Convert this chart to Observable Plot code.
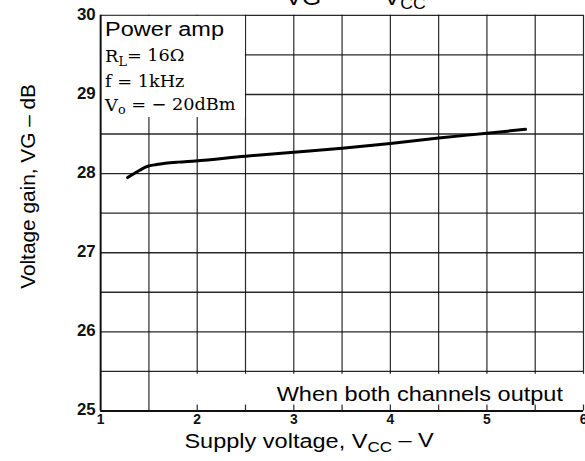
<!DOCTYPE html>
<html>
<head>
<meta charset="utf-8">
<script src="https://cdn.jsdelivr.net/npm/d3@7"></script>
<script src="https://cdn.jsdelivr.net/npm/@observablehq/plot@0.6"></script>
<style>
  html, body { margin: 0; padding: 0; overflow: hidden; background: #fff; }
  #chart { width: 585px; height: 461px; overflow: hidden; }
  svg { font-family: "Liberation Sans", Arial, sans-serif; }
</style>
</head>
<body>
<div id="chart"></div>
<script>
// ---- data ----
const supplyVoltage = [1.28, 1.33, 1.40, 1.48, 1.58, 1.67, 1.80, 1.98, 2.50, 3.00, 3.50, 4.00, 4.50, 5.00, 5.40];
const voltageGain   = [27.95, 27.99, 28.04, 28.09, 28.115, 28.13, 28.145, 28.16, 28.22, 28.27, 28.32, 28.38, 28.45, 28.51, 28.56];
const xTickValues = [1, 2, 3, 4, 5, 6];
const yTickValues = [25, 26, 27, 28, 29, 30];
const xGridValues = [1.5, 2, 2.5, 3, 3.5, 4, 4.5, 5, 5.5, 6];
const yGridValues = [25.5, 26, 26.5, 27, 27.5, 28, 28.5, 29, 29.5, 30];

const curve = supplyVoltage.map((v, i) => ({vcc: v, vg: voltageGain[i]}));

const plot = Plot.plot({
  width: 590,
  height: 461,
  marginLeft: 101,
  marginRight: 2,
  marginTop: 15,
  marginBottom: 47,
  style: {background: "white", color: "#111"},
  x: {domain: [1, 6], axis: null},
  y: {domain: [25, 30], axis: null},
  marks: [
    Plot.ruleX(xGridValues, {stroke: "#111", strokeWidth: 1.2, strokeOpacity: 0.9}),
    Plot.ruleY(yGridValues, {stroke: "#111", strokeWidth: 1.4, strokeOpacity: 0.9}),
    Plot.line(curve, {x: "vcc", y: "vg", stroke: "#000", strokeWidth: 3, curve: "monotone-x"}),
    Plot.ruleX([1], {stroke: "#111", strokeWidth: 2}),
    Plot.ruleY([25], {stroke: "#111", strokeWidth: 2}),
    Plot.text(xTickValues, {x: d => d, text: d => String(d), frameAnchor: "bottom", lineAnchor: "top", dy: 3,
      fontSize: 14, fontWeight: "bold", fill: "#111", fontFamily: "Liberation Sans, Arial, sans-serif"}),
    Plot.text(yTickValues, {y: d => d, text: d => String(d), frameAnchor: "left", textAnchor: "end", dx: -5, dy: -1,
      fontSize: 17, fontWeight: "bold", fill: "#111", fontFamily: "Liberation Sans, Arial, sans-serif"})
  ]
});

document.getElementById("chart").appendChild(plot);

const svg = d3.select(plot);
const sx = plot.scale("x"), sy = plot.scale("y");
const X = v => sx.apply(v), Y = v => sy.apply(v);

// white note backgrounds (covering grid), placed beneath the curve
const masks = [
  {x0: X(1) + 1, y0: Y(30) + 1, x1: X(1) + 146, y1: Y(30) + 103},
  {x0: X(1) + 71, y0: Y(25) - 37, x1: 590, y1: Y(25) - 6}
];
masks.forEach(m => {
  svg.insert("rect", 'g[aria-label="line"]')
    .attr("x", m.x0).attr("y", m.y0)
    .attr("width", m.x1 - m.x0).attr("height", m.y1 - m.y0)
    .attr("fill", "white");
});

const SX = 1.13;
function addText(x, y, parts, opts = {}) {
  const t = svg.append("text")
    .attr("transform", opts.rotate ? `translate(${x},${y}) rotate(-90)` : `translate(${x},${y}) scale(${opts.scale ?? SX},1)`)
    .attr("font-family", opts.family || "'Liberation Sans', Arial, sans-serif")
    .attr("font-size", opts.size || 21)
    .attr("fill", "#000")
    .attr("text-anchor", opts.anchor || "start");
  parts.forEach(p => {
    if (typeof p === "string") t.append("tspan").text(p);
    else t.append("tspan").attr("font-size", "0.72em").attr("dy", p.dy ?? "0.28em").text(p.sub);
  });
  t.selectAll("tspan").each(function(d, i, nodes) {
    const prev = nodes[i - 1];
    if (prev && prev.getAttribute("dy") && !this.getAttribute("dy")) this.setAttribute("dy", "-" + prev.getAttribute("dy").replace("-", ""));
  });
  return t;
}

// title (cut off at top in the reference)
addText(288, 5, ["VG"], {size: 22});
addText(328, 5, ["—"], {size: 22});
addText(387, 5, ["V", {sub: "CC"}], {size: 22});

// notes
addText(106, 36, ["Power amp"]);
addText(106, 63, ["R", {sub: "L"}, "= 16Ω"], {family: "'DejaVu Serif', serif", size: 17, scale: 1.05});
addText(106, 88, ["f = 1kHz"], {family: "'DejaVu Serif', serif", size: 17, scale: 1.05});
addText(106, 112, ["V", {sub: "o"}, " = − 20dBm"], {family: "'DejaVu Serif', serif", size: 17, scale: 1.05});
addText(279, 404, ["When both channels output"]);

// axis titles
addText(186, 452, ["Supply voltage, V", {sub: "CC"}, " – V"]);
addText(35, 188, ["Voltage gain, VG – dB"], {rotate: true, anchor: "middle"});
</script>
</body>
</html>
